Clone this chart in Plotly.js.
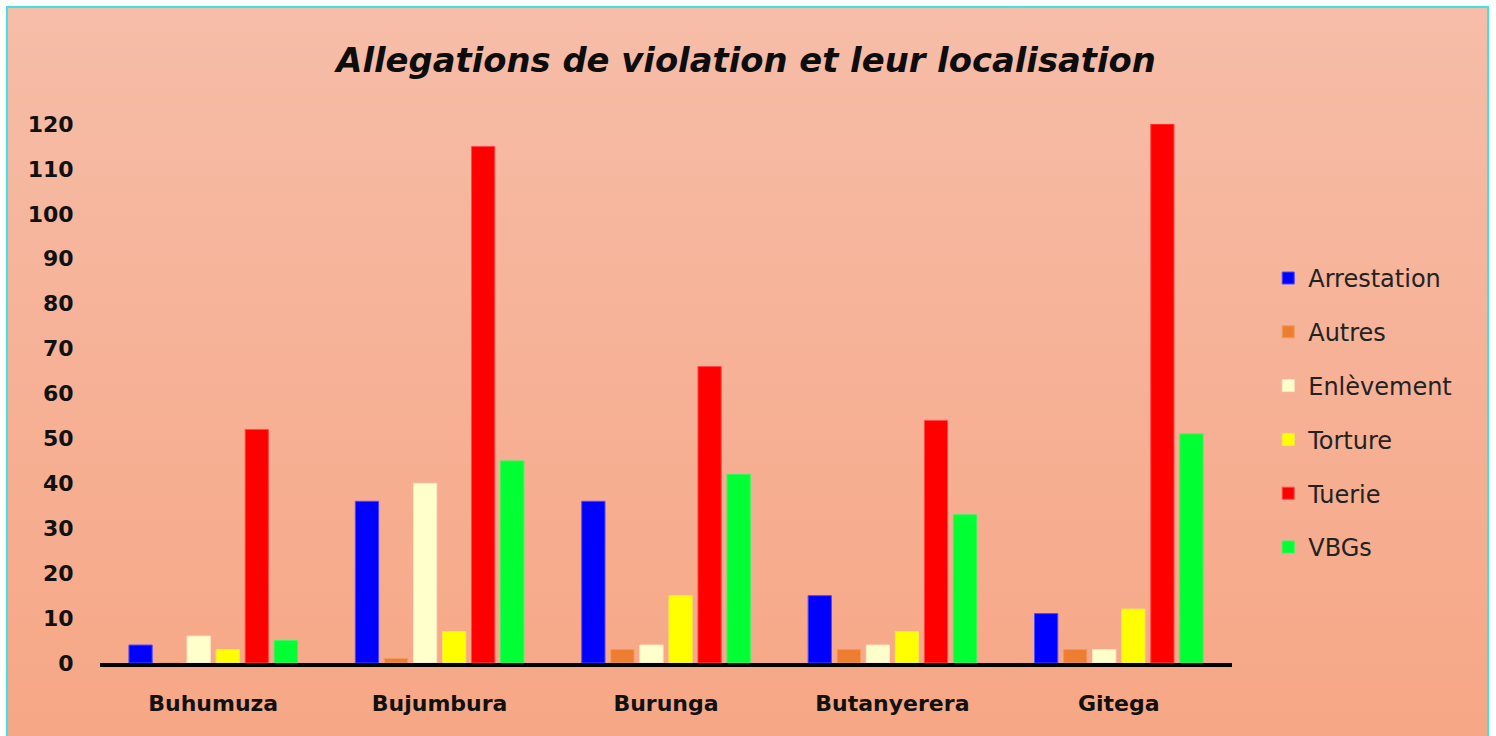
<!DOCTYPE html>
<html><head><meta charset="utf-8">
<script src="https://cdn.plot.ly/plotly-3.0.1.min.js"></script>
<style>
html,body{margin:0;padding:0;background:#ffffff;overflow:hidden;}
#frame{position:absolute;left:6px;top:6px;width:1479px;height:740px;border:2px solid #3fe3e3;border-bottom:none;
background:linear-gradient(to bottom,#f6bda8 0%,#f6b196 50%,#f6a785 100%);}
#chart{position:absolute;left:0;top:0;width:1496px;height:736px;}
</style></head>
<body>
<div id="frame"></div>
<div id="chart"></div>
<script>
const categories = ["Buhumuza","Bujumbura","Burunga","Butanyerera","Gitega"];
const seriesNames = ["Arrestation","Autres","Enlèvement","Torture","Tuerie","VBGs"];
const arrestation = [4, 36, 36, 15, 11];
const autres = [0, 1, 3, 3, 3];
const enlevement = [6, 40, 4, 4, 3];
const torture = [3, 7, 15, 7, 12];
const tuerie = [52, 115, 66, 54, 120];
const vbgs = [5, 45, 42, 33, 51];
const yTicks = [0,10,20,30,40,50,60,70,80,90,100,110,120];

const seriesValues = [arrestation, autres, enlevement, torture, tuerie, vbgs];
const colors = ["#0000ff","#ed7d31","#ffffcc","#ffff00","#ff0000","#00ff33"];
const lineColors = ["#4a4aff","#f09a5e","#f7e8c4","#f5e84a","#ff4a4a","#3af55e"];
const FONT = '"DejaVu Sans", sans-serif';

const traces = seriesNames.map((n,i)=>({
  type:'bar', name:n, x:categories, y:seriesValues[i],
  marker:{color:colors[i], line:{color:lineColors[i], width:1}},
  legendgroup:'g'+i, hoverinfo:'x+y+name'
}));

const layout = {
  width:1496, height:736,
  paper_bgcolor:'rgba(0,0,0,0)', plot_bgcolor:'rgba(0,0,0,0)',
  margin:{l:100, r:264, t:124, b:73},
  title:{text:'<b><i>Allegations de violation et leur localisation</i></b>',
    font:{family:FONT, size:33.8, color:'#0d0d0d'},
    x:0.4987, xref:'container', xanchor:'center', y:0.918, yref:'container', yanchor:'middle'},
  font:{family:FONT, color:'#111111'},
  barmode:'group', bargap:0.23, bargroupgap:0.2,
  xaxis:{showgrid:false, zeroline:false, showline:true, linecolor:'#000000', linewidth:4,
    ticks:'outside', ticklen:18, tickcolor:'rgba(0,0,0,0)',
    tickfont:{family:FONT, size:22, color:'#111111', weight:'bold'},
    range:[-0.5,4.5]},
  yaxis:{range:[0,120], tickvals:yTicks, ticktext:yTicks.map(String), showgrid:false, zeroline:false, showline:false,
    ticks:'outside', ticklen:21, tickcolor:'rgba(0,0,0,0)',
    tickfont:{family:FONT, size:22, color:'#111111', weight:'bold'}},
  showlegend:true,
  legend:{x:1.032, xanchor:'left', y:0.464, yanchor:'middle', traceorder:'grouped', tracegroupgap:19.6,
    font:{family:FONT, size:24, color:'#222222'},
    bgcolor:'rgba(0,0,0,0)', itemwidth:30}
};

Plotly.newPlot('chart', traces, layout, {displayModeBar:false, staticPlot:true});
</script>
</body></html>
